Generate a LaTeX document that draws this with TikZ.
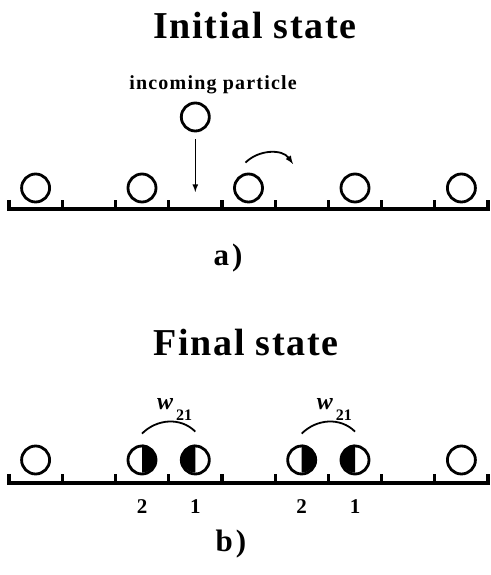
\documentclass[tikz,border=0pt]{standalone}
\usepackage{fontspec}
\setmainfont{Liberation Serif}
\newfontfamily\spacedfont[LetterSpace=4.5]{Liberation Serif}
\newfontfamily\labelfont[LetterSpace=6]{Liberation Serif}
\usetikzlibrary{arrows.meta}

\begin{document}
\begin{tikzpicture}[x=1pt,y=1pt,
  particle/.style={circle,draw,line width=2.8pt,minimum size=28pt,inner sep=0pt},
  heading/.style={font=\spacedfont\bfseries\fontsize{38}{40}\selectfont},
  panel/.style={font=\spacedfont\bfseries\fontsize{31}{33}\selectfont},
  site/.style={font=\bfseries\fontsize{21}{23}\selectfont},
  rate/.style={font=\bfseries\itshape\fontsize{24}{25}\selectfont,inner sep=0pt,anchor=base west}]
  \useasboundingbox (0,0) rectangle (490,575);

  % a) initial state
  \node[heading] (t1) at (255,549) {Initial state};
  \node[font=\labelfont\bfseries\fontsize{20}{22}\selectfont] (inlab) at (213,490) {incoming particle};
  \node[particle] (inc) at (195.3,458) {};
  \coordinate (land) at (195.3,383);
  \draw[line width=1.6pt,-latex,shorten <=7pt] (inc) -- (land);

  \draw[line width=3.2pt] (9,375) -- (9,366) -- (488,366) -- (488,375)
    (62.2,366) -- ++(0,9) (115.4,366) -- ++(0,9) (168.7,366) -- ++(0,9)
    (221.9,366) -- ++(0,9) (275.1,366) -- ++(0,9) (328.3,366) -- ++(0,9)
    (381.6,366) -- ++(0,9) (434.8,366) -- ++(0,9);
  \node[particle] (a1) at (35.6,387) {};
  \node[particle] (a2) at (142.0,387) {};
  \node[particle] (a3) at (248.5,387) {};
  \node[particle] (a4) at (355.0,387) {};
  \node[particle] (a5) at (461.4,387) {};
  \coordinate (hop) at (293,411);
  \draw[line width=1.8pt,-latex] ([shift={(-3pt,10pt)}]a3.north) to[out=45,in=125] (hop);
  \node[panel] (pa) at (228,317) {a\hspace{3pt})};

  % b) final state
  \node[heading] (t2) at (246,232) {Final state};
  \draw[line width=3.2pt] (9,101) -- (9,92) -- (488,92) -- (488,101)
    (62.2,92) -- ++(0,9) (115.4,92) -- ++(0,9) (168.7,92) -- ++(0,9)
    (221.9,92) -- ++(0,9) (275.1,92) -- ++(0,9) (328.3,92) -- ++(0,9)
    (381.6,92) -- ++(0,9) (434.8,92) -- ++(0,9);
  \node[particle] (b1) at (35.6,115) {};
  \node[particle] (b2) at (142.0,115) {};
  \node[particle] (b3) at (195.3,115) {};
  \node[particle] (b4) at (301.7,115) {};
  \node[particle] (b5) at (355.0,115) {};
  \node[particle] (b6) at (461.4,115) {};
  % half filled pairs
  \fill (b2.north) arc[start angle=90,end angle=-90,radius=14pt] -- cycle;
  \fill (b3.north) arc[start angle=90,end angle=270,radius=14pt] -- cycle;
  \fill (b4.north) arc[start angle=90,end angle=-90,radius=14pt] -- cycle;
  \fill (b5.north) arc[start angle=90,end angle=270,radius=14pt] -- cycle;
  \draw[line width=1.8pt] ([yshift=11pt]b2.north) to[out=45,in=135] ([yshift=13pt]b3.north);
  \draw[line width=1.8pt] ([yshift=11pt]b4.north) to[out=45,in=135] ([yshift=13pt]b5.north);
  \node[rate] (w1) at (157,165) {w\hspace{3pt}\raisebox{-11pt}{\upshape\fontsize{16}{16}\selectfont 21}};
  \node[rate] (w2) at (316.6,165) {w\hspace{3pt}\raisebox{-11pt}{\upshape\fontsize{16}{16}\selectfont 21}};
  \node[site] (n2a) at (142.0,68) {2};
  \node[site] (n1a) at (195.3,68) {1};
  \node[site] (n2b) at (301.7,68) {2};
  \node[site] (n1b) at (355.0,68) {1};
  \node[panel] (pb) at (231,31) {b\hspace{3pt})};
\end{tikzpicture}
\end{document}
